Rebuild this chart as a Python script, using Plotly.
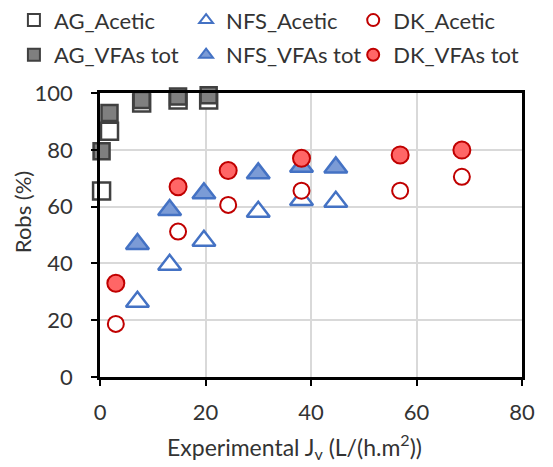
import plotly.graph_objects as go

# Data
ag_x = [0.3, 1.8, 7.9, 14.8, 20.6]
ag_acetic = [65.5, 86.5, 96.5, 97.5, 97.5]
ag_vfas = [79.5, 93.0, 97.5, 98.8, 99.2]

nfs_x = [7.1, 13.2, 19.7, 30.0, 38.2, 44.7]
nfs_acetic = [26.5, 39.5, 48.0, 58.2, 62.3, 61.7]
nfs_vfas = [46.8, 58.8, 64.7, 71.7, 74.0, 73.8]

dk_x = [3.0, 14.8, 24.3, 38.2, 56.9, 68.6]
dk_acetic = [18.7, 51.2, 60.6, 65.6, 65.6, 70.5]
dk_vfas = [33.0, 67.0, 72.7, 77.0, 78.2, 79.9]

x_ticks = [0, 20, 40, 60, 80]
y_ticks = [0, 20, 40, 60, 80, 100]

x_title = "Experimental J<sub>v</sub> (L/(h.m<sup>2</sup>))"
y_title = "Robs (%)"

FONT = "Lato"
TXT = "#333333"
GREY_D = "#404040"
GREY_F = "#7f7f7f"
BLUE = "#4472c4"
BLUE_F = "#7b9bd6"
RED = "#c00000"
RED_F = "#ff6666"

fig = go.Figure()

def add(name, x, y, symbol, line_col, fill_col, size, lw, legend):
    fig.add_trace(go.Scatter(
        x=x, y=y, name=name, mode="markers", cliponaxis=False,
        legend=legend, showlegend=True,
        marker=dict(symbol=symbol, size=size, color=fill_col,
                    line=dict(color=line_col, width=lw)),
    ))

add("AG_Acetic", ag_x, ag_acetic, "square", GREY_D, "white", 17, 2.5, "legend")
add("NFS_Acetic", nfs_x, nfs_acetic, "triangle-up", BLUE, "white", 20, 2.5, "legend2")
add("DK_Acetic", dk_x, dk_acetic, "circle", RED, "white", 16, 2, "legend3")
add("AG_VFAs tot", ag_x, ag_vfas, "square", GREY_D, GREY_F, 16, 2.5, "legend4")
add("NFS_VFAs tot", nfs_x, nfs_vfas, "triangle-up", BLUE, BLUE_F, 20, 2.5, "legend5")
add("DK_VFAs tot", dk_x, dk_vfas, "circle", RED, RED_F, 17, 2, "legend6")

def leg(x, y):
    return dict(orientation="h", xanchor="left", yanchor="middle",
                x=x, y=y, visible=True,
                font=dict(family=FONT, size=22, color=TXT),
                bgcolor="rgba(0,0,0,0)", itemsizing="constant",
                itemwidth=30)

col_x = [-0.204, 0.204, 0.600]
row_y = [1.256, 1.134]

fig.update_layout(
    width=553, height=467,
    margin=dict(l=92, r=39, t=85, b=98, autoexpand=False),
    paper_bgcolor="white", plot_bgcolor="white",
    showlegend=True,
    font=dict(family=FONT, size=22, color=TXT),
    legend=leg(col_x[0], row_y[0]),
    legend2=leg(col_x[1], row_y[0]),
    legend3=leg(col_x[2], row_y[0]),
    legend4=leg(col_x[0], row_y[1]),
    legend5=leg(col_x[1], row_y[1]),
    legend6=leg(col_x[2], row_y[1]),
    xaxis=dict(
        range=[0, 80], tickvals=x_ticks, ticktext=[str(v) for v in x_ticks],
        tickfont=dict(family=FONT, size=22, color=TXT),
        showgrid=True, gridcolor="#d9d9d9", gridwidth=1.5,
        showline=True, linecolor="black", linewidth=2.5, mirror=True,
        ticks="outside", ticklen=6, tickwidth=2, tickcolor="black",
        ticklabelstandoff=8,
        zeroline=False,
    ),
    yaxis=dict(
        range=[0, 100], tickvals=y_ticks,
        ticktext=[str(v) for v in y_ticks],
        tickfont=dict(family=FONT, size=22, color=TXT),
        showgrid=True, gridcolor="#d9d9d9", gridwidth=1.5,
        showline=True, linecolor="black", linewidth=2.5, mirror=True,
        ticks="outside", ticklen=6, tickwidth=2, tickcolor="black",
        ticklabelstandoff=14,
        zeroline=False,
    ),
    annotations=[
        dict(text=x_title, xref="paper", yref="paper", x=0.462, y=-0.243,
             xanchor="center", yanchor="middle", showarrow=False,
             font=dict(family=FONT, size=23, color=TXT)),
        dict(text=y_title, xref="paper", yref="paper", x=-0.182, y=0.581,
             xanchor="center", yanchor="middle", showarrow=False, textangle=-90,
             font=dict(family=FONT, size=22, color=TXT)),
    ],
)

fig.write_html("out.html")
